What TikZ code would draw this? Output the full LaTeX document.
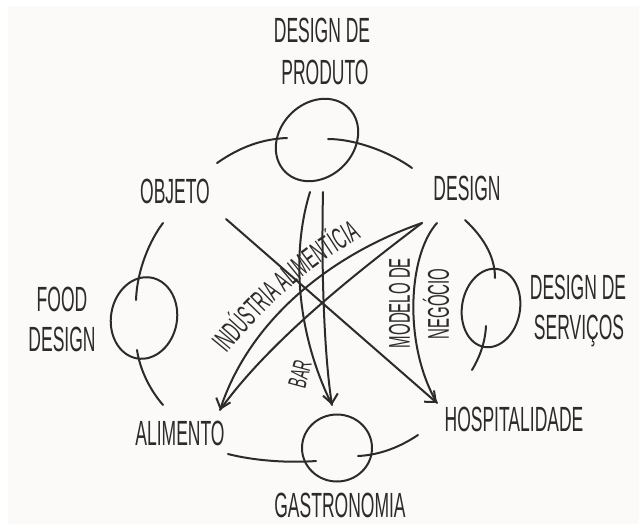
\documentclass[tikz,border=0pt]{standalone}
\usepackage{fontspec}
\usetikzlibrary{arrows.meta,decorations.text}
\newfontfamily\hand{Liberation Sans}[FakeStretch=0.5]
\definecolor{ink}{HTML}{2B2B2B}
\definecolor{paper}{HTML}{FCFAF8}
\begin{document}
\begin{tikzpicture}[x=1pt,y=-1pt,
  lbl/.style={font=\hand\fontsize{35}{35}\selectfont,text=ink,inner sep=0pt,text height=25pt,text depth=0pt},
  sml/.style={font=\hand\fontsize{30}{30}\selectfont,text=ink,inner sep=0pt,text height=21.5pt,text depth=0pt},
  strokeline/.style={draw=ink,line width=2pt,line cap=round},
  arr/.style={strokeline,-{Straight Barb[length=9pt,width=15pt]}},
  loopy/.style={draw=ink,line width=2pt}]
\useasboundingbox (0,0) rectangle (639,524);
\fill[white] (0,0) rectangle (639,524);
\fill[paper] (8,6) rectangle (639,524);

% labels
\node[lbl] (p1) at (322,30) {DESIGN DE};
\node[lbl] (p2) at (325,72) {PRODUTO};
\node[lbl] (obj) at (175,191) {OBJETO};
\node[lbl] (des) at (467,188) {DESIGN};
\node[lbl] (f1) at (62,299) {FOOD};
\node[lbl] (f2) at (62,339) {DESIGN};
\node[lbl] (s1) at (578,287) {DESIGN DE};
\node[lbl] (s2) at (579,327) {SERVIÇOS};
\node[lbl] (ali) at (180,433) {ALIMENTO};
\node[lbl] (hos) at (514,419) {HOSPITALIDADE};
\node[lbl] (gas) at (340,505) {GASTRONOMIA};
\node[sml,rotate=90] (mod) at (399,303) {MODELO DE};
\node[sml,rotate=90] (neg) at (438,304) {NEGÓCIO};
\node[font=\hand\fontsize{26}{26}\selectfont,text=ink,inner sep=0pt,text height=18pt,text depth=0pt,rotate=75] (bar) at (300,374) {BAR};

% loops
\draw[loopy,rotate around={45:(317,140)}] (317,140) ellipse[x radius=45pt,y radius=37pt];
\draw[loopy,rotate around={80:(144,318)}] (144,318) ellipse[x radius=41pt,y radius=33pt];
\draw[loopy,rotate around={80:(491,308)}] (491,308) ellipse[x radius=39.5pt,y radius=29pt];
\draw[loopy] (337,448) ellipse[x radius=35pt,y radius=33.5pt];

% coordinates
\coordinate (d1) at (422,223);
\coordinate (d2) at (437,223);
\coordinate (o1) at (226,219);
\coordinate (b1) at (310,192);
\coordinate (b2) at (323,192);
\coordinate (ta) at (220,410);
\coordinate (tg) at (332,405);
\coordinate (th) at (437,403);

% connectors
\draw[arr] (d1) .. controls (330,255) and (250,320) .. (ta);
\draw[strokeline] (d1) .. controls (360,270) and (270,340) .. (ta);
\draw[arr] (b2) .. controls (321,280) and (325,360) .. (tg);
\draw[strokeline] (b1) .. controls (292,250) and (295,330) .. (tg);
\draw[arr] (o1) -- (th);
\draw[strokeline] (d2) .. controls (408,255) and (403,345) .. (th);

% circle arcs
\draw[strokeline] (217,163) .. controls (240,147) and (262,139) .. (287,138);
\draw[strokeline] (328,139) .. controls (355,139) and (390,152) .. (412,168);
\draw[strokeline] (465,220) .. controls (482,236) and (495,255) .. (495,278);
\draw[strokeline] (486,326) .. controls (485,345) and (478,360) .. (472,370);
\draw[strokeline] (418,435) .. controls (400,447) and (380,455) .. (358,456);
\draw[strokeline] (316,461) .. controls (290,463) and (255,461) .. (228,454);
\draw[strokeline] (137,350) .. controls (140,370) and (150,390) .. (163,405);
\draw[strokeline] (163,223) .. controls (150,240) and (137,270) .. (136,300);

% text along curve
\path[decorate,decoration={text along path,text align=center,
  text={|\hand\fontsize{30}{30}\selectfont\color{ink}|INDÚSTRIA ALIMENTÍCIA}}]
  (212,372) .. controls (258,312) and (312,260) .. (382,227);
\end{tikzpicture}
\end{document}
